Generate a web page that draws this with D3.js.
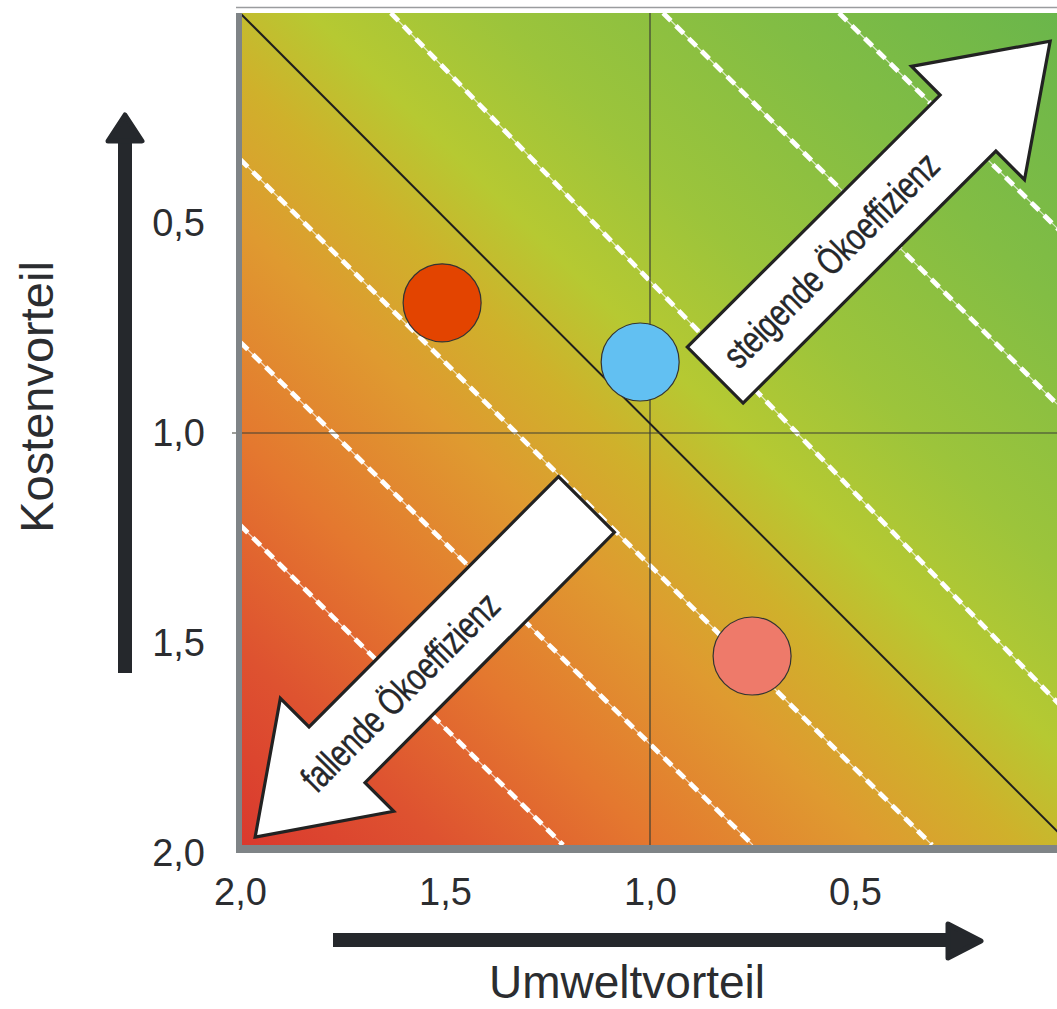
<!DOCTYPE html>
<html>
<head>
<meta charset="utf-8">
<script src="https://cdn.jsdelivr.net/npm/d3@7"></script>
<style>
  html, body { margin: 0; padding: 0; background: #fff; }
  svg { display: block; }
  text { font-family: "Liberation Sans", Arial, sans-serif; }
</style>
</head>
<body>
<svg id="chart" width="1057" height="1009"></svg>
<script>
// ---------------- data ----------------
const xTicks = [2.0, 1.5, 1.0, 0.5];
const yTicks = [0.5, 1.0, 1.5, 2.0];
const xTitle = "Umweltvorteil";
const yTitle = "Kostenvorteil";

// products: [Umweltvorteil, Kostenvorteil]
const productNames = ["Produkt A", "Produkt B", "Produkt C"];
const productX = [1.507, 1.024, 0.751];
const productY = [0.690, 0.831, 1.531];

// iso-efficiency lines (dashed), endpoints in data units
const isoX1 = [0.539, 0.968, 1.632, 2.000, 2.000, 2.000];
const isoY1 = [0.000, 0.000, 0.000, 0.348, 0.783, 1.219];
const isoX2 = [0.000, 0.000, 0.000, 0.312, 0.749, 1.212];
const isoY2 = [0.519, 0.938, 1.648, 1.981, 1.981, 1.981];

// break-even line (solid)
const mainLineX = [2.0, 0.0];
const mainLineY = [0.0, 1.955];

// reference grid at 1,0
const gridX = [1.0];
const gridY = [1.0];

// annotation arrows
const arrowLabels = ["steigende Ökoeffizienz", "fallende Ökoeffizienz"];
const arrowFrom = [[0.841, 0.862], [1.155, 1.170]];
const arrowTo   = [[0.024, 0.067], [1.963, 1.962]];

// ---------------- styles ----------------
const productColors = ["#e34400", "#62c0f2", "#ee7a6a"];
const arrowLabelAt = [0.345, 0.563];

// ---------------- chart ----------------
const svg = d3.select("#chart");
const pL = 240, pR = 1060, pT = 13, pB = 853, plotBottom = 845;

const x = d3.scaleLinear().domain([2, 0]).range([pL, pR]);
const y = d3.scaleLinear().domain([0, 2]).range([pT, pB]);

const defs = svg.append("defs");
const grad = defs.append("linearGradient")
  .attr("id", "bg")
  .attr("gradientUnits", "userSpaceOnUse")
  .attr("x1", pL).attr("y1", plotBottom)
  .attr("x2", pR).attr("y2", pT);
[
  [0.00, "#da392e"], [0.12, "#de5230"], [0.25, "#e4782f"], [0.38, "#df9a30"],
  [0.47, "#cfb12b"], [0.55, "#b6c932"], [0.66, "#9cc43b"], [0.82, "#82bd44"],
  [1.00, "#6ab64b"]
].forEach(([o, c]) => grad.append("stop").attr("offset", o).attr("stop-color", c));

defs.append("clipPath").attr("id", "plotclip")
  .append("rect").attr("x", pL).attr("y", pT)
  .attr("width", pR - pL).attr("height", plotBottom - pT);

// top thin frame line
svg.append("line")
  .attr("x1", 236).attr("x2", 1057).attr("y1", 7.5).attr("y2", 7.5)
  .attr("stroke", "#9a9c9e").attr("stroke-width", 1.5);

const plot = svg.append("g").attr("clip-path", "url(#plotclip)");

plot.append("rect")
  .attr("x", pL).attr("y", pT)
  .attr("width", pR - pL).attr("height", plotBottom - pT)
  .attr("fill", "url(#bg)");

// dashed iso lines
const isoData = isoX1.map((d, i) => ({x1: isoX1[i], y1: isoY1[i], x2: isoX2[i], y2: isoY2[i]}));
const isoG = plot.append("g");
isoG.selectAll("line.thin").data(isoData).join("line")
  .attr("class", "thin")
  .attr("x1", d => x(d.x1)).attr("y1", d => y(d.y1))
  .attr("x2", d => x(d.x2)).attr("y2", d => y(d.y2))
  .attr("stroke", "#fff").attr("stroke-width", 1.2).attr("stroke-opacity", 0.7);
isoG.selectAll("line.thick").data(isoData).join("line")
  .attr("class", "thick")
  .attr("x1", d => x(d.x1)).attr("y1", d => y(d.y1))
  .attr("x2", d => x(d.x2)).attr("y2", d => y(d.y2))
  .attr("stroke", "#fff").attr("stroke-width", 4.8)
  .attr("stroke-dasharray", "11 7");

// grid at 1,0
plot.selectAll("line.gx").data(gridX).join("line")
  .attr("class", "gx")
  .attr("x1", d => x(d)).attr("x2", d => x(d))
  .attr("y1", pT).attr("y2", plotBottom)
  .attr("stroke", "#3c3f35").attr("stroke-width", 1.2);
svg.selectAll("line.gy").data(gridY).join("line")
  .attr("class", "gy")
  .attr("x1", 232).attr("x2", 1057)
  .attr("y1", d => y(d)).attr("y2", d => y(d))
  .attr("stroke", "#3c3f35").attr("stroke-width", 1.2);

// main diagonal
plot.append("line")
  .attr("x1", x(mainLineX[0])).attr("y1", y(mainLineY[0]))
  .attr("x2", x(mainLineX[1])).attr("y2", y(mainLineY[1]))
  .attr("stroke", "#1e1e1e").attr("stroke-width", 2);

// products
plot.selectAll("circle.p").data(productNames).join("circle")
  .attr("class", "p")
  .attr("cx", (d, i) => x(productX[i]))
  .attr("cy", (d, i) => y(productY[i]))
  .attr("r", 39)
  .attr("fill", (d, i) => productColors[i])
  .attr("stroke", "#333").attr("stroke-width", 1.2);

// annotation arrows
const shaftHalf = 39.5, headHalf = 80, headLen = 116;
arrowLabels.forEach((label, i) => {
  const p0 = [x(arrowFrom[i][0]), y(arrowFrom[i][1])];
  const p1 = [x(arrowTo[i][0]), y(arrowTo[i][1])];
  const dx = p1[0] - p0[0], dy = p1[1] - p0[1];
  const L = Math.hypot(dx, dy);
  const u = [dx / L, dy / L], n = [-u[1], u[0]];
  const b = [p1[0] - u[0] * headLen, p1[1] - u[1] * headLen];
  const pt = (p, k) => [p[0] + n[0] * k, p[1] + n[1] * k];
  const poly = [pt(p0, shaftHalf), pt(b, shaftHalf), pt(b, headHalf), p1,
                pt(b, -headHalf), pt(b, -shaftHalf), pt(p0, -shaftHalf)];
  svg.append("path")
    .attr("d", d3.line()(poly) + "Z")
    .attr("fill", "#fff").attr("stroke", "#222").attr("stroke-width", 3.2)
    .attr("stroke-linejoin", "miter");
  let ang = Math.atan2(dy, dx) * 180 / Math.PI;
  if (ang > 90) ang -= 180;
  if (ang < -90) ang += 180;
  const t = arrowLabelAt[i] * L;
  const c = [p0[0] + u[0] * t, p0[1] + u[1] * t];
  svg.append("text")
    .attr("transform", `translate(${c[0]},${c[1]}) rotate(${ang}) scale(0.76,1)`)
    .attr("text-anchor", "middle")
    .attr("dominant-baseline", "central")
    .attr("font-size", 38)
    .attr("letter-spacing", -0.3)
    .attr("fill", "#25272a")
    .attr("stroke", "#25272a").attr("stroke-width", 0.4)
    .text(label);
});

// axis bands
svg.append("rect").attr("x", 236).attr("y", pT).attr("width", 6).attr("height", pB - pT)
  .attr("fill", "#7f8487");
svg.append("rect").attr("x", 236).attr("y", plotBottom).attr("width", 1057 - 236).attr("height", pB - plotBottom)
  .attr("fill", "#7f8487");

// tick labels via axes
const fmt = d => d3.format(".1f")(d).replace(".", ",");
const yAxis = svg.append("g").attr("transform", `translate(${pL},0)`)
  .call(d3.axisLeft(y).tickValues(yTicks).tickFormat(fmt).tickSize(0).tickPadding(35));
const xAxis = svg.append("g").attr("transform", `translate(0,${pB})`)
  .call(d3.axisBottom(x).tickValues(xTicks).tickFormat(fmt).tickSize(0).tickPadding(25));
[yAxis, xAxis].forEach(a => {
  a.select(".domain").remove();
  a.selectAll("text").attr("font-size", 38).attr("fill", "#2b2d30")
    .attr("font-family", "'Liberation Sans', Arial, sans-serif");
});

// axis direction arrows
const ink = "#25282c";
svg.append("rect").attr("x", 118).attr("y", 140).attr("width", 14).attr("height", 533).attr("fill", ink);
svg.append("path").attr("d", "M125,115 L142,141 L108,141 Z")
  .attr("fill", ink).attr("stroke", ink).attr("stroke-width", 5).attr("stroke-linejoin", "round");
svg.append("rect").attr("x", 333).attr("y", 933).attr("width", 617).attr("height", 14).attr("fill", ink);
svg.append("path").attr("d", "M981,941 L948,924 L948,958 Z")
  .attr("fill", ink).attr("stroke", ink).attr("stroke-width", 5).attr("stroke-linejoin", "round");

// axis titles
svg.append("text")
  .attr("transform", "translate(53,397) rotate(-90)")
  .attr("text-anchor", "middle")
  .attr("font-size", 47).attr("fill", "#2b2d30")
  .text(yTitle);
svg.append("text")
  .attr("x", 627).attr("y", 998)
  .attr("text-anchor", "middle")
  .attr("font-size", 46).attr("fill", "#2b2d30")
  .text(xTitle);
</script>
</body>
</html>
